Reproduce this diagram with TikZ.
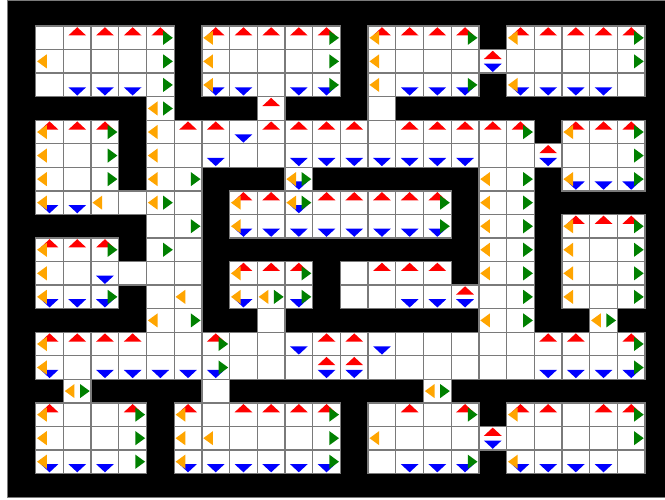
\documentclass[tikz,border=0pt]{standalone}
\definecolor{tred}{HTML}{FF0000}
\definecolor{tblue}{HTML}{0000FF}
\definecolor{torange}{HTML}{FFA500}
\definecolor{tgreen}{HTML}{008000}
\definecolor{cellgray}{HTML}{7A7A7A}
\newcommand\triU[2]{\fill[tred] (#1+0.5,#2+0.05) -- (#1+0.18,#2+0.4) -- (#1+0.82,#2+0.4) -- cycle;}
\newcommand\triD[2]{\fill[tblue] (#1+0.5,#2+0.95) -- (#1+0.18,#2+0.6) -- (#1+0.82,#2+0.6) -- cycle;}
\newcommand\triL[2]{\fill[torange] (#1+0.05,#2+0.5) -- (#1+0.4,#2+0.2) -- (#1+0.4,#2+0.8) -- cycle;}
\newcommand\triR[2]{\fill[tgreen] (#1+0.95,#2+0.5) -- (#1+0.6,#2+0.2) -- (#1+0.6,#2+0.8) -- cycle;}
\begin{document}
\begin{tikzpicture}[x=1pt,y=-1pt]
\useasboundingbox (0,0) rectangle (665,500);
\fill[white] (0,0) rectangle (665,500);
\fill[black] (7,1) rectangle (665,497);
\draw[cellgray, line width=1pt] (665,1) -- (7,1) -- (7,497) -- (665,497);
\begin{scope}[shift={(8,2.5)}, x=27.7pt, y=-23.55pt]
% open cells
\def\openrows{1/{1,2,3,4,5,7,8,9,10,11,13,14,15,16,18,19,20,21,22},
 2/{1,2,3,4,5,7,8,9,10,11,13,14,15,16,17,18,19,20,21,22},
 3/{1,2,3,4,5,7,8,9,10,11,13,14,15,16,18,19,20,21,22},
 4/{5,9,13},
 5/{1,2,3,5,6,7,8,9,10,11,12,13,14,15,16,17,18,20,21,22},
 6/{1,2,3,5,6,7,8,9,10,11,12,13,14,15,16,17,18,19,20,21,22},
 7/{1,2,3,5,6,10,17,18,20,21,22},
 8/{1,2,3,4,5,6,8,9,10,11,12,13,14,15,17,18},
 9/{5,6,8,9,10,11,12,13,14,15,17,18,20,21,22},
 10/{1,2,3,5,6,17,18,20,21,22},
 11/{1,2,3,4,5,6,8,9,10,12,13,14,15,17,18,20,21,22},
 12/{1,2,3,5,6,8,9,10,12,13,14,15,16,17,18,20,21,22},
 13/{5,6,9,17,18,21},
 14/{1,2,3,4,5,6,7,8,9,10,11,12,13,14,15,16,17,18,19,20,21,22},
 15/{1,2,3,4,5,6,7,8,9,10,11,12,13,14,15,16,17,18,19,20,21,22},
 16/{2,7,15},
 17/{1,2,3,4,6,7,8,9,10,11,13,14,15,16,18,19,20,21,22},
 18/{1,2,3,4,6,7,8,9,10,11,13,14,15,16,17,18,19,20,21,22},
 19/{1,2,3,4,6,7,8,9,10,11,13,14,15,16,18,19,20,21,22}}
\foreach \i/\cols in \openrows {\foreach \j in \cols {\fill[white] (\j,\i) rectangle ++(1,1);}}
\foreach \i/\cols in \openrows {\foreach \j in \cols {\draw[cellgray, line width=1.3pt] (\j,\i) rectangle ++(1,1);}}
% up (red)
\foreach \i/\cols in {1/{2,3,4,5,7,8,9,10,11,13,14,15,16,18,19,20,21,22},
 2/{17}, 4/{9},
 5/{1,2,3,6,7,9,10,11,12,14,15,16,17,18,20,21,22},
 6/{19}, 8/{8,9,11,12,13,14,15}, 9/{20,21,22}, 10/{1,2,3},
 11/{8,9,10,13,14,15}, 12/{16}, 14/{1,2,3,4,7,11,12,19,20,22},
 15/{11,12}, 17/{1,4,6,8,9,10,11,14,16,18,19,21,22}, 18/{17}}
 {\foreach \j in \cols {\triU{\j}{\i}}}
% down (blue)
\foreach \i/\cols in {2/{17}, 3/{2,3,4,7,8,10,11,14,15,16,18,19,20,21},
 5/{8}, 6/{7,10,11,12,13,14,15,16,19}, 7/{10,20,21,22}, 8/{1,2,10},
 9/{8,9,10,11,12,13,14,15}, 11/{3}, 12/{1,2,3,8,10,14,15,16}, 14/{10,13},
 15/{1,3,4,5,6,7,11,12,19,20,21,22}, 18/{17},
 19/{1,2,3,6,7,8,9,10,11,14,15,16,18,19,20,21}}
 {\foreach \j in \cols {\triD{\j}{\i}}}
% left (orange)
\foreach \i/\cols in {1/{7,13,18}, 2/{1,7,13}, 3/{7,13,18}, 4/{5},
 5/{1,5,20}, 6/{1,5}, 7/{1,5,10,17,20}, 8/{1,3,5,8,10,17},
 9/{8,17,20}, 10/{1,17,20}, 11/{1,8,17,20}, 12/{1,6,8,9,20},
 13/{5,17,21}, 14/{1}, 15/{1}, 16/{2,15}, 17/{1,6,18}, 18/{1,6,7,13},
 19/{1,6,18}}
 {\foreach \j in \cols {\triL{\j}{\i}}}
% right (green)
\foreach \i/\cols in {1/{5,11,16,22}, 2/{5,11,22}, 3/{5,11,16}, 4/{5},
 5/{3,18,22}, 6/{3,22}, 7/{3,6,10,18,22}, 8/{5,10,15,18},
 9/{6,15,18,22}, 10/{3,5,18,22}, 11/{10,18,22}, 12/{3,9,10,18,22},
 13/{6,18,21}, 14/{7,22}, 15/{7,22}, 16/{2,15}, 17/{4,11,16,22},
 18/{4,11,22}, 19/{4,11,16}}
 {\foreach \j in \cols {\triR{\j}{\i}}}
\end{scope}
\end{tikzpicture}
\end{document}
